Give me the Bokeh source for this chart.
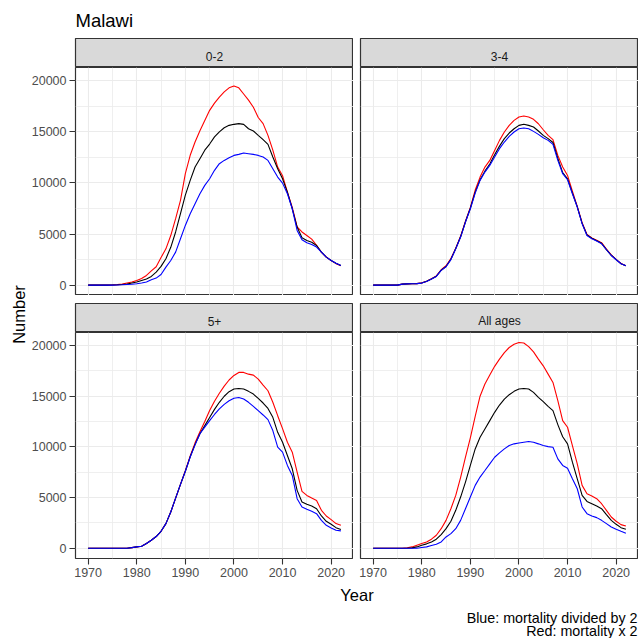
import math
from bokeh.plotting import figure
from bokeh.layouts import column, row
from bokeh.models import Range1d, FixedTicker
from bokeh.embed import file_html
from bokeh.resources import INLINE
from bokeh.core.properties import value

FONT = "Liberation Sans"

# ---------------- data ----------------
years = list(range(1970, 2023))
panel_labels = ["0-2", "3-4", "5+", "All ages"]
title_text = "Malawi"
x_label = "Year"
y_label = "Number"
caption_lines = ["Blue: mortality divided by 2", "Red: mortality x 2"]

x_ticks = [1970, 1980, 1990, 2000, 2010, 2020]
x_tick_labels = ["1970", "1980", "1990", "2000", "2010", "2020"]
x_minor = [1975, 1985, 1995, 2005, 2015]
y_ticks = [0, 5000, 10000, 15000, 20000]
y_tick_labels = ["0", "5000", "10000", "15000", "20000"]
y_minor = [2500, 7500, 12500, 17500]

# 0-2
red_02 = [0, 0, 0, 0, 0, 20, 50, 100, 200, 300, 450, 650, 950, 1400, 1800, 2700, 3550, 4850, 6500, 8300,
          10900, 12700, 14000, 15100, 16100, 17100, 17800, 18400, 18900, 19300, 19480, 19300, 18700, 18100,
          17400, 16400, 15800, 14650, 13200, 11550, 10700, 9100, 7600, 5700, 5200, 4850, 4500, 3900, 3200,
          2750, 2400, 2100, 1900]
black_02 = [0, 0, 0, 0, 0, 10, 30, 60, 100, 200, 300, 450, 600, 850, 1270, 1830, 2580, 3700, 5200, 7000,
            8800, 10250, 11550, 12370, 13200, 13800, 14500, 15000, 15400, 15630, 15730, 15800, 15730, 15300,
            15080, 14650, 14230, 13770, 12530, 11390, 10400, 9100, 7470, 5680, 4630, 4370, 4200, 3880, 3230,
            2740, 2410, 2150, 1930]
blue_02 = [0, 0, 0, 0, 0, 0, 10, 30, 60, 90, 130, 200, 300, 520, 690, 1040, 1760, 2410, 3230, 4540,
           5840, 6980, 7960, 8940, 9760, 10410, 11230, 11880, 12200, 12460, 12690, 12790, 12920, 12860,
           12790, 12690, 12530, 12200, 11390, 10570, 9980, 8940, 7470, 5350, 4440, 4140, 3980, 3720, 3230,
           2740, 2410, 2150, 1930]
# 3-4
red_34 = [0, 0, 0, 0, 0, 0, 100, 120, 130, 150, 220, 380, 620, 900, 1500, 1900, 2600, 3600, 4800, 6250,
          7600, 9300, 10570, 11550, 12200, 13180, 14160, 14980, 15630, 16120, 16450, 16540, 16450, 16220,
          15790, 15200, 14650, 14230, 12690, 11550, 10730, 9200, 7700, 6100, 4950, 4620, 4400, 4150, 3520,
          2950, 2520, 2120, 1900]
black_34 = [0, 0, 0, 0, 0, 0, 100, 120, 130, 150, 210, 370, 600, 870, 1460, 1820, 2530, 3580, 4730, 6200,
            7520, 9100, 10300, 11150, 11850, 12750, 13600, 14330, 14880, 15300, 15630, 15730, 15630, 15470,
            15080, 14650, 14330, 13950, 12400, 11000, 10400, 9000, 7660, 6040, 4900, 4580, 4350, 4090, 3480,
            2920, 2500, 2100, 1890]
blue_34 = [0, 0, 0, 0, 0, 0, 100, 120, 130, 150, 200, 360, 590, 850, 1440, 1800, 2500, 3560, 4700, 6170,
           7470, 9000, 10250, 11060, 11710, 12530, 13350, 14000, 14550, 14980, 15300, 15370, 15300, 15040,
           14750, 14420, 14160, 13770, 12200, 10900, 10310, 8940, 7640, 6000, 4860, 4540, 4310, 4050, 3460,
           2900, 2480, 2090, 1890]
# 5+
red_5p = [0, 0, 0, 0, 0, 0, 0, 0, 0, 60, 130, 200, 460, 790, 1150, 1670, 2430, 3570, 4950, 6300,
          7650, 9100, 10400, 11500, 12500, 13600, 14500, 15300, 16000, 16600, 17050, 17350, 17350, 17180,
          17080, 16690, 16100, 15540, 14400, 13080, 11800, 10460, 9480, 7510, 5610, 5210, 4950, 4720, 3740,
          3180, 2820, 2430, 2260]
black_5p = [0, 0, 0, 0, 0, 0, 0, 0, 0, 60, 130, 200, 460, 790, 1150, 1670, 2430, 3570, 4950, 6300,
            7600, 9020, 10250, 11300, 12100, 12900, 13700, 14400, 15000, 15450, 15710, 15770, 15710, 15480,
            15210, 14790, 14330, 13800, 12920, 11440, 10460, 9150, 7840, 5710, 4560, 4330, 4160, 3900, 3180,
            2660, 2360, 2030, 1840]
blue_5p = [0, 0, 0, 0, 0, 0, 0, 0, 0, 60, 130, 200, 460, 790, 1150, 1670, 2430, 3570, 4950, 6300,
           7600, 9000, 10200, 11300, 11950, 12600, 13200, 13750, 14200, 14550, 14800, 14880, 14720, 14400,
           14000, 13580, 13150, 12690, 11610, 9970, 9480, 8170, 7180, 4890, 4070, 3840, 3640, 3410, 2750,
           2260, 2000, 1770, 1710]
# All ages
red_all = [0, 0, 0, 0, 0, 0, 0, 50, 130, 300, 460, 620, 890, 1280, 1930, 2750, 3900, 5210, 7000, 9000,
           10900, 13000, 15000, 16200, 17100, 17950, 18660, 19310, 19810, 20130, 20300, 20250, 19900, 19380,
           18660, 18000, 17180, 16360, 14560, 12590, 11940, 10130, 8330, 6200, 5380, 5150, 4890, 4390, 3740,
           3080, 2660, 2330, 2200]
black_all = [0, 0, 0, 0, 0, 0, 0, 0, 30, 130, 300, 430, 620, 890, 1340, 1930, 2660, 3740, 5050, 6530,
             8170, 9800, 10950, 11770, 12590, 13410, 14130, 14720, 15150, 15480, 15710, 15770, 15710, 15380,
             14890, 14460, 14000, 13580, 12200, 11000, 10300, 8490, 6850, 5210, 4620, 4390, 4160, 3900, 3310,
             2750, 2360, 2030, 1870]
blue_all = [0, 0, 0, 0, 0, 0, 0, 0, 0, 0, 70, 130, 260, 390, 620, 1110, 1440, 1930, 2750, 3900,
            5050, 6200, 7020, 7670, 8330, 8980, 9410, 9800, 10130, 10300, 10390, 10460, 10530, 10460,
            10300, 10130, 10030, 9970, 8820, 8170, 7900, 6850, 5870, 4070, 3410, 3180, 3020, 2750, 2430,
            2100, 1870, 1670, 1480]

panel_series = [
    (red_02, black_02, blue_02),
    (red_34, black_34, blue_34),
    (red_5p, black_5p, blue_5p),
    (red_all, black_all, blue_all),
]

# ---------------- styling / geometry ----------------
GRID = "#EBEBEB"
DARK = "#333333"
TICKCOL = "#4D4D4D"
STRIPFILL = "#D9D9D9"

YLAB_W = 27
LEFT_BORDER = 48
GAP_W = 7
FRAME_W = 278
HEADER_H = 38
STRIP_H = 29
TOP_FRAME_H = 228
GAP_H = 8
BOT_FRAME_H = 226
BOT_AXIS_H = 26
FOOTER_H = 638 - (HEADER_H + STRIP_H + TOP_FRAME_H + GAP_H + STRIP_H + BOT_FRAME_H + BOT_AXIS_H)
TOTAL_W = YLAB_W + LEFT_BORDER + FRAME_W + GAP_W + FRAME_W

X_RANGE = (1967.4, 2024.6)
Y_RANGE = (-1015, 21290)


def blank(width, height, xr, yr, bl=0, bt=0):
    p = figure(width=width, height=height, x_range=Range1d(*xr), y_range=Range1d(*yr),
               toolbar_location=None, output_backend="svg",
               x_axis_location=None, y_axis_location=None,
               min_border_left=bl, min_border_right=0,
               min_border_top=bt, min_border_bottom=0)
    p.grid.visible = False
    p.outline_line_color = None
    p.background_fill_color = "white"
    p.border_fill_color = "white"
    return p


# header with title
header = blank(TOTAL_W, HEADER_H, (0, TOTAL_W), (0, HEADER_H))
header.text(x=[YLAB_W + LEFT_BORDER], y=[HEADER_H - 20.2], text=[title_text], text_align="left",
            text_baseline="middle", text_font=value(FONT), text_font_size="18.5px",
            text_color="black")


def strip(label, left_border, top_border):
    p = blank(left_border + FRAME_W, top_border + STRIP_H, (0, 1), (0, STRIP_H),
              bl=left_border, bt=top_border)
    p.background_fill_color = STRIPFILL
    p.outline_line_color = DARK
    p.outline_line_width = 1.2
    p.text(x=[0.5], y=[11.5], text=[label], text_align="center", text_baseline="middle",
           text_font=value(FONT), text_font_size="12px", text_color="#1A1A1A")
    return p


def panel(series, left_border, frame_h, show_x, show_y):
    bottom = BOT_AXIS_H if show_x else 0
    p = figure(width=left_border + FRAME_W, height=frame_h + bottom,
               x_range=Range1d(*X_RANGE), y_range=Range1d(*Y_RANGE),
               toolbar_location=None, output_backend="svg",
               x_axis_location="below" if show_x else None,
               y_axis_location="left" if show_y else None,
               min_border_left=left_border, min_border_right=0,
               min_border_top=0, min_border_bottom=bottom)
    p.background_fill_color = "white"
    p.border_fill_color = "white"
    p.outline_line_color = DARK
    p.outline_line_width = 1.2

    p.xgrid.ticker = FixedTicker(ticks=x_ticks, minor_ticks=x_minor)
    p.ygrid.ticker = FixedTicker(ticks=y_ticks, minor_ticks=y_minor)
    for g in (p.xgrid, p.ygrid):
        g.grid_line_color = GRID
        g.grid_line_width = 1.1
        g.minor_grid_line_color = GRID
        g.minor_grid_line_width = 0.8

    axes = []
    if show_x:
        ax = p.xaxis[0]
        ax.ticker = FixedTicker(ticks=x_ticks, minor_ticks=[])
        ax.major_label_overrides = {t: l for t, l in zip(x_ticks, x_tick_labels)}
        axes.append(ax)
    if show_y:
        ay = p.yaxis[0]
        ay.ticker = FixedTicker(ticks=y_ticks, minor_ticks=[])
        ay.major_label_overrides = {t: l for t, l in zip(y_ticks, y_tick_labels)}
        axes.append(ay)
    for a in axes:
        a.axis_line_color = None
        a.major_tick_line_color = DARK
        a.major_tick_line_width = 1.1
        a.major_tick_out = 6
        a.major_tick_in = 0
        a.minor_tick_line_color = None
        a.major_label_text_font = FONT
        a.major_label_text_font_size = "12.5px"
        a.major_label_text_color = TICKCOL
        a.major_label_standoff = 3

    red, black, blue = series
    p.line(years, red, line_color="#FF0000", line_width=1.1)
    p.line(years, black, line_color="#000000", line_width=1.1)
    p.line(years, blue, line_color="#0000FF", line_width=1.1)
    return p


s_tl = strip(panel_labels[0], LEFT_BORDER, 0)
s_tr = strip(panel_labels[1], GAP_W, 0)
s_bl = strip(panel_labels[2], LEFT_BORDER, GAP_H)
s_br = strip(panel_labels[3], GAP_W, GAP_H)

p_tl = panel(panel_series[0], LEFT_BORDER, TOP_FRAME_H, False, True)
p_tr = panel(panel_series[1], GAP_W, TOP_FRAME_H, False, False)
p_bl = panel(panel_series[2], LEFT_BORDER, BOT_FRAME_H, True, True)
p_br = panel(panel_series[3], GAP_W, BOT_FRAME_H, True, False)

mid_h = STRIP_H + TOP_FRAME_H + GAP_H + STRIP_H + BOT_FRAME_H + BOT_AXIS_H
ylab = blank(YLAB_W, mid_h, (0, YLAB_W), (0, mid_h))
# centre of the label at page y ~314
ylab.text(x=[18], y=[mid_h - (314 - HEADER_H)], text=[y_label], angle=math.pi / 2, text_align="center",
          text_baseline="middle", text_font=value(FONT), text_font_size="16.5px", text_color="black")

footer = blank(TOTAL_W, FOOTER_H, (0, TOTAL_W), (0, FOOTER_H))
footer_top = 638 - FOOTER_H
panels_center = YLAB_W + LEFT_BORDER + (FRAME_W + GAP_W + FRAME_W) / 2.0
footer.text(x=[panels_center], y=[FOOTER_H - (594.2 - footer_top)], text=[x_label], text_align="center",
            text_baseline="middle", text_font=value(FONT), text_font_size="16.5px",
            text_color="black")
footer.text(x=[TOTAL_W - 1, TOTAL_W - 1],
            y=[FOOTER_H - (617.5 - footer_top), FOOTER_H - (630.5 - footer_top)],
            text=caption_lines, text_align="right",
            text_baseline="middle", text_font=value(FONT), text_font_size="14.3px",
            text_color="black")

left_col = column(s_tl, p_tl, s_bl, p_bl, spacing=0)
right_col = column(s_tr, p_tr, s_br, p_br, spacing=0)
middle = row(ylab, left_col, right_col, spacing=0)
layout = column(header, middle, footer, spacing=0)

open("out.html", "w").write(file_html(layout, INLINE))
